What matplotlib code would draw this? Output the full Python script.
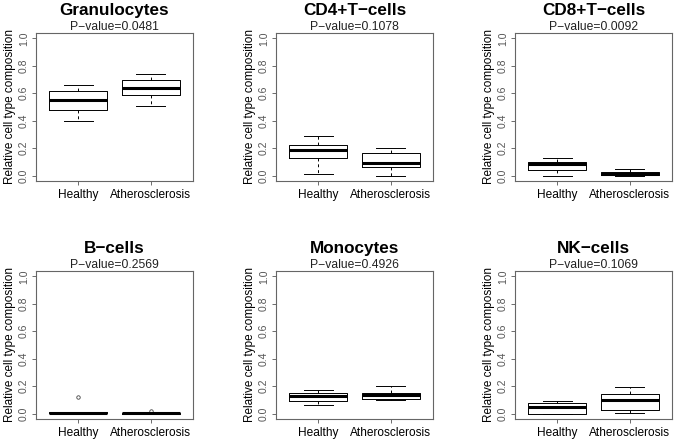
import matplotlib
matplotlib.use("Agg")
import matplotlib.pyplot as plt

plt.rcParams['font.family'] = ['Liberation Sans', 'DejaVu Sans']

groups = ['Healthy', 'Atherosclerosis']
cell_types = ['Granulocytes', 'CD4+T-cells', 'CD8+T-cells', 'B-cells', 'Monocytes', 'NK-cells']
pvalues = ['0.0481', '0.1078', '0.0092', '0.2569', '0.4926', '0.1069']

# five-number summaries: [whislo, q1, med, q3, whishi]
granulocytes = [[0.395, 0.478, 0.554, 0.615, 0.664], [0.510, 0.586, 0.642, 0.694, 0.738]]
cd4 = [[0.012, 0.125, 0.186, 0.225, 0.289], [0.000, 0.061, 0.088, 0.167, 0.203]]
cd8 = [[0.000, 0.039, 0.081, 0.100, 0.130], [0.000, 0.003, 0.010, 0.029, 0.049]]
bcells = [[0.000, 0.001, 0.006, 0.012, 0.014], [0.000, 0.000, 0.002, 0.004, 0.006]]
monocytes = [[0.061, 0.091, 0.130, 0.152, 0.170], [0.096, 0.103, 0.133, 0.150, 0.204]]
nkcells = [[0.000, 0.000, 0.047, 0.079, 0.091], [0.005, 0.027, 0.098, 0.145, 0.192]]
outliers = {'B-cells': [[0.12], [0.022]]}

all_stats = [granulocytes, cd4, cd8, bcells, monocytes, nkcells]

W, H = 675, 441
fig = plt.figure(figsize=(W / 100, H / 100), dpi=100)

lefts = [36, 276, 515]
tops = [33, 271]
aw, ah = 157, 148

for i, (name, pv, stats) in enumerate(zip(cell_types, pvalues, all_stats)):
    r, c = divmod(i, 3)
    ax = fig.add_axes([lefts[c] / W, (H - tops[r] - ah) / H, aw / W, ah / H])
    bx = []
    for j, s in enumerate(stats):
        fl = outliers.get(name, [[], []])[j]
        bx.append(dict(whislo=s[0], q1=s[1], med=s[2], q3=s[3], whishi=s[4], fliers=fl, label=groups[j]))
    ax.bxp(bx, positions=[1, 2], widths=0.8, capwidths=0.4, showfliers=True,
           boxprops=dict(color='black', lw=0.7),
           whiskerprops=dict(color='black', lw=0.7, ls=(0, (3, 3))),
           capprops=dict(color='black', lw=0.7),
           medianprops=dict(color='black', lw=2.2, solid_capstyle='butt'),
           flierprops=dict(marker='o', markersize=2.5, markerfacecolor='none',
                           markeredgecolor='#444444', markeredgewidth=0.6))
    ax.set_xlim(0.42, 2.58)
    ax.set_ylim(-0.04, 1.04)
    ax.set_yticks([0, 0.2, 0.4, 0.6, 0.8, 1.0])
    ax.set_yticklabels(['0.0', '0.2', '0.4', '0.6', '0.8', '1.0'])
    ax.set_xticks([1, 2])
    ax.set_xticklabels(groups, fontsize=8.6)
    ax.tick_params(axis='y', labelrotation=90, labelsize=7.5, length=3, width=0.6,
                   color='#555555', labelcolor='#555555', pad=2)
    ax.tick_params(axis='x', length=3, width=0.6, color='#555555', pad=3)
    for lbl in ax.get_yticklabels():
        lbl.set_va('center')
    for sp in ax.spines.values():
        sp.set_color('#666666')
        sp.set_linewidth(0.8)
    ax.set_ylabel('Relative cell type composition', fontsize=8.5, labelpad=2)
    ax.text(0.5, 1.02, 'P\u2212value=' + pv, transform=ax.transAxes, ha='center', va='baseline',
            fontsize=8.7, color='#222222')
    ax.text(0.5, 1.122, name.replace('-', '\u2212'), transform=ax.transAxes, ha='center',
            va='baseline', fontsize=12.3, fontweight='bold')

fig.savefig('out.png', dpi=100)
